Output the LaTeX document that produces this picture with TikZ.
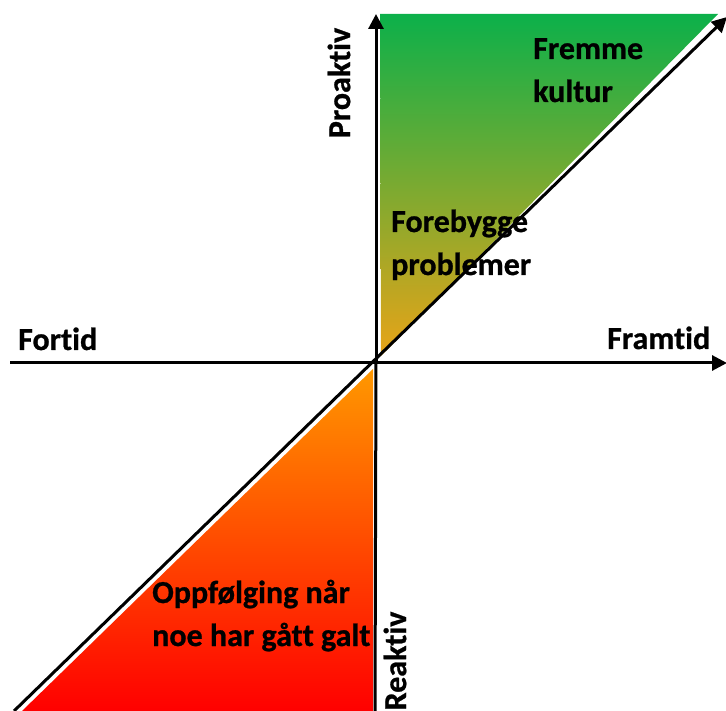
\documentclass[tikz,border=0pt]{standalone}
\usepackage{fontspec}
\setmainfont{Carlito}[Ligatures={CommonOff,ContextualOff},BoldFeatures={FakeBold=0.8}]
\usetikzlibrary{arrows.meta}
\definecolor{kulturgreen}{RGB}{12,176,74}
\definecolor{midorange}{RGB}{232,164,24}
\definecolor{avvikorange}{RGB}{255,152,0}
\definecolor{avvikred}{RGB}{255,0,0}
\newcommand{\nolig}{\kern0pt}
\tikzset{
  axis/.style={line width=3pt,-{Triangle[length=15pt,width=15pt]}},
  plainaxis/.style={line width=3pt},
  label/.style={font=\bfseries\fontsize{32}{43}\selectfont,inner sep=0pt},
}
\begin{document}
\begin{tikzpicture}[x=1pt,y=-1pt]
\useasboundingbox (0,0) rectangle (726,711);
\coordinate (O) at (376,362);
\coordinate (top) at (376,14);
\coordinate (bottom) at (375,711);
\coordinate (left) at (10,363);
\coordinate (right) at (727,363);
\coordinate (dl) at (14,711);
\coordinate (dr) at (727,17);
% fields
\shade[top color=kulturgreen,bottom color=midorange] (380,14) -- (718,14) -- (381,356) -- cycle;
\shade[top color=avvikorange,bottom color=avvikred] (373,369) -- (373,711) -- (22,711) -- cycle;
% axes
\draw[axis] (O) -- (top);
\draw[plainaxis] (O) -- (bottom);
\draw[axis] (left) -- (right);
\draw[axis] (dl) -- (dr);
% labels
\node[label,rotate=90] (proaktiv) at (339,83) {Proakt\nolig iv};
\node[label,rotate=90] (reaktiv) at (395,661) {Reakt\nolig iv};
\node[label,anchor=base west] (fortid) at (18,350) {Fort\nolig id};
\node[label,anchor=base west] (framtid) at (607,349) {Framt\nolig id};
\node[label,align=left,anchor=base west] (kultur) at (533,102) {Fremme\\kultur};
\node[label,align=left,anchor=base west] (forebygge) at (391,275) {Forebygge\\problemer};
\node[label,align=left,anchor=base west] (oppfolging) at (152,646) {Oppfølging når\\noe har gåt\nolig t galt};
\end{tikzpicture}
\end{document}
